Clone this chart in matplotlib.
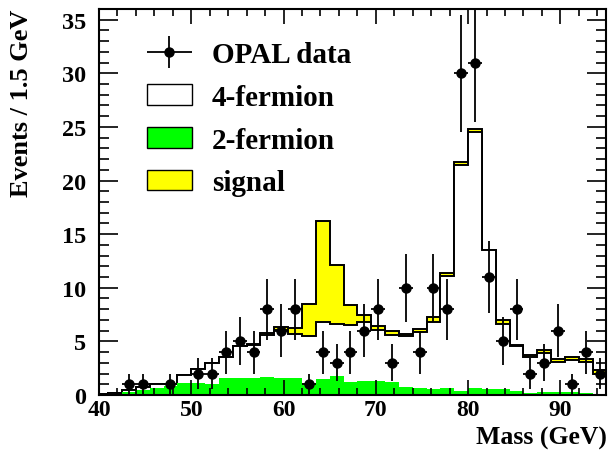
import numpy as np
import matplotlib
matplotlib.use("Agg")
import matplotlib.pyplot as plt
from matplotlib.container import ErrorbarContainer
from matplotlib.legend_handler import HandlerErrorbar
from matplotlib.patches import Patch
from matplotlib.ticker import MultipleLocator

plt.rcParams['font.family'] = ['Liberation Serif', 'DejaVu Serif']
plt.rcParams['font.weight'] = 'bold'

# histogram binning (GeV)
bin_start = 39.5
bin_width = 1.5
n_bins = 37

# observed events per bin
data_counts = [0, 0, 1, 1, 0, 1, 0, 2, 2, 4,
               5, 4, 8, 6, 8, 1, 4, 3, 4, 6,
               8, 3, 10, 4, 10, 8, 30, 31, 11, 5,
               8, 2, 3, 6, 1, 4, 2]

# expected background / signal per bin
bkg_2f = [0.0, 0.05, 0.3, 0.45, 0.65, 0.85, 1.1, 1.1, 1.05, 1.6,
          1.55, 1.55, 1.7, 1.55, 1.55, 1.1, 1.5, 1.8, 1.25, 1.3,
          1.35, 1.25, 0.72, 0.62, 0.55, 0.65, 0.37, 0.62, 0.55, 0.55,
          0.35, 0.2, 0.3, 0.27, 0.27, 0.2, 0.05]
bkg_4f = [0.1, 0.15, 0.15, 0.3, 0.35, 0.15, 0.8, 1.3, 1.95, 1.95,
          3.0, 3.15, 3.9, 4.5, 4.1, 4.4, 5.3, 4.8, 5.25, 5.55,
          4.7, 4.35, 4.75, 5.3, 6.3, 10.45, 21.05, 23.95, 12.95, 6.1,
          4.25, 3.3, 3.6, 2.8, 3.0, 2.9, 1.9]
signal = [0, 0, 0, 0, 0, 0, 0, 0, 0, 0,
          0, 0.05, 0.2, 0.25, 0.6, 2.95, 9.4, 5.5, 1.85, 0.65,
          0.38, 0.4, 0.22, 0.25, 0.38, 0.3, 0.32, 0.25, 0.05, 0.3,
          0.02, 0.22, 0.3, 0.25, 0.25, 0.25, 0.34]

edges = bin_start + bin_width * np.arange(n_bins + 1)
centers = edges[:-1] + bin_width / 2

h2 = np.array(bkg_2f)
h4 = h2 + np.array(bkg_4f)
hs = h4 + np.array(signal)
counts = np.array(data_counts, dtype=float)

fig = plt.figure(figsize=(6.08, 4.56), dpi=100)
ax = fig.add_axes([0.1628, 0.1316, 0.8347, 0.8465])

# stacked expectation: signal on top of 4f on top of 2f
ax.stairs(hs, edges, baseline=h4, fill=True, color='#ffff00', zorder=1)
ax.stairs(hs, edges, baseline=None, color='black', lw=1.4, zorder=1.1)
ax.stairs(h4, edges, baseline=h2, fill=True, color='white', zorder=1.2)
ax.stairs(h4, edges, baseline=None, color='black', lw=1.4, zorder=1.3)
ax.stairs(h2, edges, fill=True, color='#00ff00', zorder=1.4)

m = counts > 0
eb = ax.errorbar(centers[m], counts[m], yerr=np.sqrt(counts[m]), xerr=bin_width / 2,
                 fmt='o', color='black', ms=6.5, elinewidth=1.3, capsize=0, zorder=3)

ax.set_xlim(40, 95)
ax.set_ylim(0, 36)
ax.xaxis.set_major_locator(MultipleLocator(10))
ax.xaxis.set_minor_locator(MultipleLocator(2))
ax.yaxis.set_major_locator(MultipleLocator(5))
ax.yaxis.set_minor_locator(MultipleLocator(1))
ax.set_axisbelow(False)
ax.tick_params(which='both', direction='in', top=True, right=True, width=1.2)
ax.tick_params(axis='x', which='major', length=11, pad=3, labelsize=17)
ax.tick_params(axis='x', which='minor', length=5)
ax.tick_params(axis='y', which='major', length=14, pad=9, labelsize=17.5)
ax.tick_params(axis='y', which='minor', length=7.5)
for lab in ax.get_xticklabels() + ax.get_yticklabels():
    lab.set_fontweight('bold')
for sp in ax.spines.values():
    sp.set_linewidth(1.5)

ax.set_xlabel('Mass (GeV)', fontsize=18.5, fontweight='bold', loc='right')
ax.set_ylabel('Events / 1.5 GeV', fontsize=19, fontweight='bold', loc='top')
ax.xaxis.set_label_coords(1.0, -0.0805)
ax.yaxis.set_label_coords(-0.13, 1.0)

handles = [eb,
           Patch(facecolor='white', edgecolor='black', lw=1),
           Patch(facecolor='#00ff00', edgecolor='black', lw=1),
           Patch(facecolor='#ffff00', edgecolor='black', lw=1)]
labels = ['OPAL data', '4-fermion', '2-fermion', 'signal']
ax.legend(handles, labels, loc='upper left', bbox_to_anchor=(0.094, 0.917),
          frameon=False, borderpad=0, borderaxespad=0,
          handlelength=1.55, handleheight=0.72, handletextpad=0.69,
          labelspacing=0.54, prop={'weight': 'bold', 'size': 21},
          handler_map={ErrorbarContainer: HandlerErrorbar(xerr_size=0.78, yerr_size=0.55, numpoints=1)})

fig.savefig('out.png', dpi=100)
